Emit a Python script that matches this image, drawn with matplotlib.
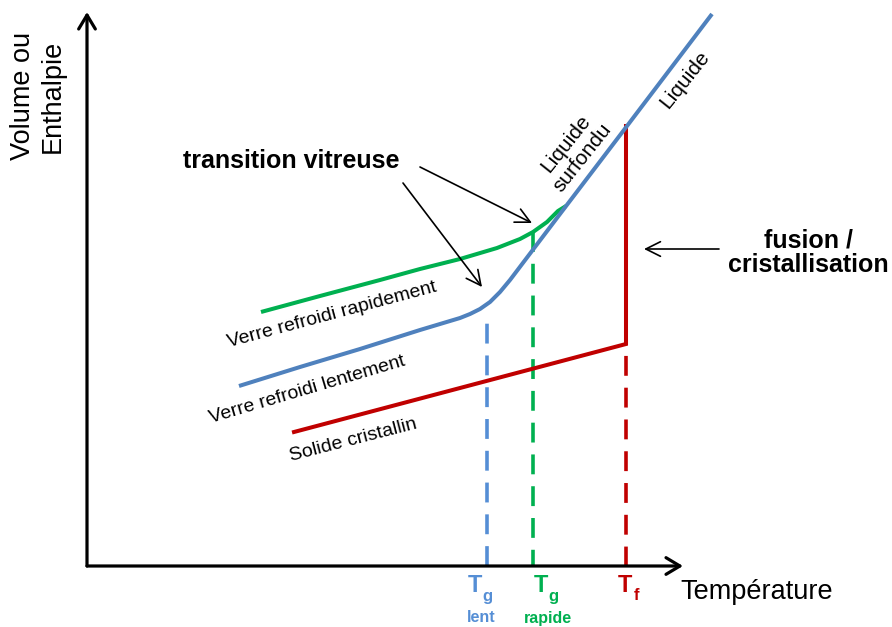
import matplotlib
matplotlib.use("Agg")
import matplotlib.pyplot as plt

plt.rcParams['font.family'] = ['Liberation Sans', 'DejaVu Sans']

# schematic coordinates (temperature, volume), origin at the axes corner
lent_T = [152, 213, 273, 333, 363, 373, 383, 393, 403, 413, 423, 473, 540, 625]
lent_V = [180, 199, 217, 236, 245, 248, 252, 257, 264, 274, 286, 352, 440, 552]

rapide_T = [174, 233, 293, 333, 373, 410, 433, 446, 460, 471, 479]
rapide_V = [254, 270, 286, 297, 307, 318, 327, 334, 344, 355, 360]

cristal_T = [207, 539, 539]
cristal_V = [134, 222, 440]

Tg_lent = 400
Tg_rapide = 446
Tf = 539
top_lent = 253
top_rapide = 334
top_f = 222

blue = '#4F81BD'
blue_d = '#558ED5'
green = '#00B050'
red = '#C00000'

fig = plt.figure(figsize=(8.92, 6.27), dpi=100)
ax = fig.add_axes([0, 0, 1, 1])
ax.set_xlim(-87, 805)
ax.set_ylim(-61, 566)
ax.axis('off')

# axes with arrows
ax.annotate('', xy=(0, 554), xytext=(0, 0),
            arrowprops=dict(arrowstyle='->, head_length=0.5, head_width=0.3',
                            lw=2.3, color='black', shrinkA=0, shrinkB=0,
                            mutation_scale=20))
ax.annotate('', xy=(596, 0), xytext=(0, 0),
            arrowprops=dict(arrowstyle='->, head_length=0.5, head_width=0.3',
                            lw=2.3, color='black', shrinkA=0, shrinkB=0,
                            mutation_scale=20))

# dashed drop lines
ax.plot([Tg_lent, Tg_lent], [0, top_lent], color=blue_d, lw=2.6,
        linestyle=(0, (5.5, 3.3)))
ax.plot([Tg_rapide, Tg_rapide], [top_rapide, 0], color=green, lw=2.6,
        linestyle=(0, (5.5, 3.3)))
ax.plot([Tf, Tf], [top_f, 0], color=red, lw=2.6,
        linestyle=(5.5, (5.5, 3.3)))

# curves
ax.plot(cristal_T, cristal_V, color=red, lw=2.9, solid_joinstyle='miter')
ax.plot(rapide_T, rapide_V, color=green, lw=2.9, solid_capstyle='butt')
ax.plot(lent_T, lent_V, color=blue, lw=2.9, solid_capstyle='butt')

# labels
ax.text(-49, 470, 'Volume ou\nEnthalpie', rotation=90, fontsize=19.5,
        ha='center', va='center', multialignment='center', linespacing=1.15)
ax.text(670, -26, 'Température', fontsize=19.5, ha='center', va='center')

ax.text(204, 405, 'transition vitreuse', fontsize=18, fontweight='bold',
        ha='center', va='center')
ax.text(721, 313, 'fusion /\ncristallisation', fontsize=18, fontweight='bold',
        ha='center', va='center', multialignment='center', linespacing=1.05)

thin = dict(arrowstyle='->, head_length=0.7, head_width=0.35', lw=1.2,
            color='black', shrinkA=0, shrinkB=0, mutation_scale=15)
ax.annotate('', xy=(557, 317), xytext=(632, 317), arrowprops=thin)
ax.annotate('', xy=(395, 279), xytext=(316, 383), arrowprops=thin)
ax.annotate('', xy=(445, 343), xytext=(333, 399), arrowprops=thin)

ax.text(598, 486, 'Liquide', rotation=51.5, fontsize=15, ha='center',
        va='center', rotation_mode='anchor')
ax.text(487, 415, 'Liquide\nsurfondu', rotation=51.5, fontsize=15,
        ha='center', va='center', multialignment='center',
        rotation_mode='anchor', linespacing=1.2)
ax.text(245, 251, 'Verre refroidi rapidement', rotation=15, fontsize=14,
        ha='center', va='center', rotation_mode='anchor')
ax.text(220, 176, 'Verre refroidi lentement', rotation=16.5, fontsize=14,
        ha='center', va='center', rotation_mode='anchor')
ax.text(266, 126, 'Solide cristallin', rotation=14.5, fontsize=14,
        ha='center', va='center', rotation_mode='anchor')

# temperature marks
marks = [(388, 'g', 'lent', blue_d), (454, 'g', 'rapide', green),
         (538, 'f', '', red)]
for tx, sub, word, col in marks:
    ax.text(tx, -20, 'T', fontsize=17, fontweight='bold', color=col,
            ha='center', va='center')
    ax.text(tx + 12, -30, sub, fontsize=12, fontweight='bold', color=col,
            ha='center', va='center')
    if word:
        ax.text(tx + 6 + (1 if word == 'rapide' else 0), -52, word,
                fontsize=11.5, fontweight='bold', color=col,
                ha='center', va='center')

fig.savefig('out.png', dpi=100)
